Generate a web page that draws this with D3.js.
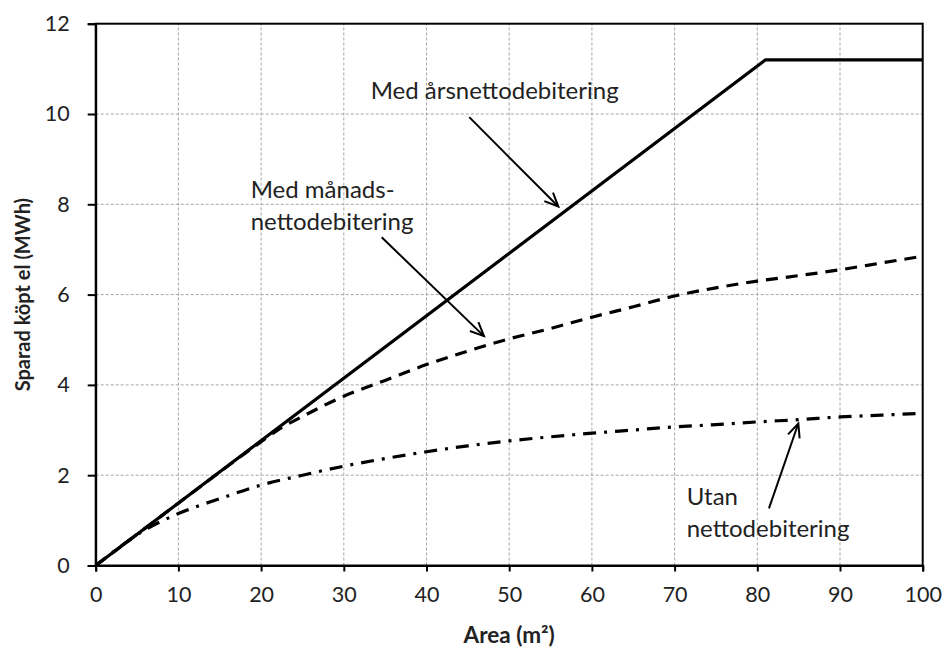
<!DOCTYPE html>
<html>
<head>
<meta charset="utf-8">
<script src="https://cdn.jsdelivr.net/npm/d3@7"></script>
<style>
  body { margin: 0; background: #fff; }
  svg { display: block; }
  text { font-family: Lato, "Open Sans", sans-serif; fill: #222; }
</style>
</head>
<body>
<svg id="chart" width="945" height="650"></svg>
<script>
// ---- Data ----
const xTicks = [0, 10, 20, 30, 40, 50, 60, 70, 80, 90, 100];
const yTicks = [0, 2, 4, 6, 8, 10, 12];

const annualX = [0, 81, 100];
const annualY = [0, 11.2, 11.2];

const monthlyX = [0, 5, 10, 15, 20, 22, 25, 30, 35, 40, 45, 50, 55, 60, 65, 70, 75, 80, 85, 90, 95, 100];
const monthlyY = [0, 0.69, 1.38, 2.07, 2.74, 3.0, 3.3, 3.75, 4.1, 4.45, 4.75, 5.02, 5.25, 5.5, 5.73, 5.97, 6.15, 6.3, 6.42, 6.55, 6.7, 6.85];

const noNetX = [0, 3, 5, 10, 15, 20, 25, 30, 35, 40, 45, 50, 55, 60, 65, 70, 75, 80, 85, 90, 95, 100];
const noNetY = [0, 0.42, 0.68, 1.15, 1.48, 1.78, 2.0, 2.2, 2.37, 2.52, 2.65, 2.76, 2.85, 2.93, 3.0, 3.07, 3.12, 3.18, 3.23, 3.29, 3.33, 3.37];

const xTitle = "Area (m²)";
const yTitle = "Sparad köpt el (MWh)";

// annotations in data coordinates
const annoLabels = [
  { lines: ["Med årsnettodebitering"], x: 33.25, y: 10.34 },
  { lines: ["Med månads-", "nettodebitering"], x: 18.74, y: 8.15 },
  { lines: ["Utan", "nettodebitering"], x: 71.46, y: 1.34 }
];
const annoArrows = [
  { x1: 45.17, y1: 9.93, x2: 55.94, y2: 7.95 },
  { x1: 34.58, y1: 7.27, x2: 46.95, y2: 5.08 },
  { x1: 81.41, y1: 1.265, x2: 84.96, y2: 3.146 }
];

// ---- Layout ----
const W = 945, H = 650;
const margin = { left: 95.7, right: 22.3, top: 23.7, bottom: 84.5 };
const svg = d3.select("#chart");

const x = d3.scaleLinear().domain([0, 100]).range([margin.left, W - margin.right]);
const y = d3.scaleLinear().domain([0, 12]).range([H - margin.bottom, margin.top]);

// gridlines
const grid = svg.append("g");
grid.selectAll("line.gx").data(xTicks.slice(1, -1)).join("line")
  .attr("x1", d => x(d)).attr("x2", d => x(d))
  .attr("y1", y(0)).attr("y2", y(12))
  .attr("stroke", "#a6a6a6").attr("stroke-width", 1).attr("stroke-dasharray", "3,2");
grid.selectAll("line.gy").data(yTicks.slice(1, -1)).join("line")
  .attr("x1", x(0)).attr("x2", x(100))
  .attr("y1", d => y(d)).attr("y2", d => y(d))
  .attr("stroke", "#a6a6a6").attr("stroke-width", 1).attr("stroke-dasharray", "3,2");

// frame
svg.append("rect")
  .attr("x", x(0)).attr("y", y(12))
  .attr("width", x(100) - x(0)).attr("height", y(0) - y(12))
  .attr("fill", "none").attr("stroke", "#000").attr("stroke-width", 2);

// axes
const xAxis = svg.append("g").attr("transform", `translate(0,${y(0)})`)
  .call(d3.axisBottom(x).tickValues(xTicks).tickSize(6).tickPadding(20));
const yAxis = svg.append("g").attr("transform", `translate(${x(0)},0)`)
  .call(d3.axisLeft(y).tickValues(yTicks).tickSize(8).tickPadding(18));
[xAxis, yAxis].forEach(a => {
  a.select(".domain").attr("stroke", "#000").attr("stroke-width", 2);
  a.selectAll(".tick line").attr("stroke", "#000").attr("stroke-width", 2);
  a.selectAll(".tick text").attr("font-family", "Lato, sans-serif")
    .attr("font-size", 21.5).attr("fill", "#222");
});
xAxis.selectAll(".tick text").attr("dy", "0.5em");

// axis titles
svg.append("text")
  .attr("x", (x(0) + x(100)) / 2).attr("y", 643)
  .attr("text-anchor", "middle").attr("font-weight", "bold").attr("font-size", 22.5)
  .text(xTitle);
svg.append("text")
  .attr("transform", `translate(30,${(y(0) + y(12)) / 2}) rotate(-90)`)
  .attr("text-anchor", "middle").attr("font-weight", "bold").attr("font-size", 20)
  .text(yTitle);

// series
const line = d3.line().x(d => x(d[0])).y(d => y(d[1]));
const smooth = d3.line().x(d => x(d[0])).y(d => y(d[1])).curve(d3.curveMonotoneX);

svg.append("path").datum(noNetX.map((v, i) => [v, noNetY[i]]))
  .attr("d", smooth).attr("fill", "none").attr("stroke", "#000")
  .attr("stroke-width", 3.2).attr("stroke-dasharray", "13,8,3,8");
svg.append("path").datum(monthlyX.map((v, i) => [v, monthlyY[i]]))
  .attr("d", smooth).attr("fill", "none").attr("stroke", "#000")
  .attr("stroke-width", 3.2).attr("stroke-dasharray", "12,8");
svg.append("path").datum(annualX.map((v, i) => [v, annualY[i]]))
  .attr("d", line).attr("fill", "none").attr("stroke", "#000")
  .attr("stroke-width", 3.2).attr("stroke-linejoin", "round");

// annotations
annoLabels.forEach(a => {
  const t = svg.append("text").attr("font-size", 24).attr("fill", "#222");
  a.lines.forEach((l, i) => {
    t.append("tspan").attr("x", x(a.x)).attr("y", y(a.y) + i * 32).text(l);
  });
});
annoArrows.forEach(a => {
  const X1 = x(a.x1), Y1 = y(a.y1), X2 = x(a.x2), Y2 = y(a.y2);
  const ang = Math.atan2(Y2 - Y1, X2 - X1);
  const L = 15, spread = 0.42;
  const g = svg.append("g").attr("stroke", "#000").attr("stroke-width", 2).attr("fill", "none");
  g.append("line").attr("x1", X1).attr("y1", Y1).attr("x2", X2).attr("y2", Y2);
  g.append("path").attr("d",
    `M${X2 - L * Math.cos(ang - spread)},${Y2 - L * Math.sin(ang - spread)} L${X2},${Y2} L${X2 - L * Math.cos(ang + spread)},${Y2 - L * Math.sin(ang + spread)}`);
});
</script>
</body>
</html>
